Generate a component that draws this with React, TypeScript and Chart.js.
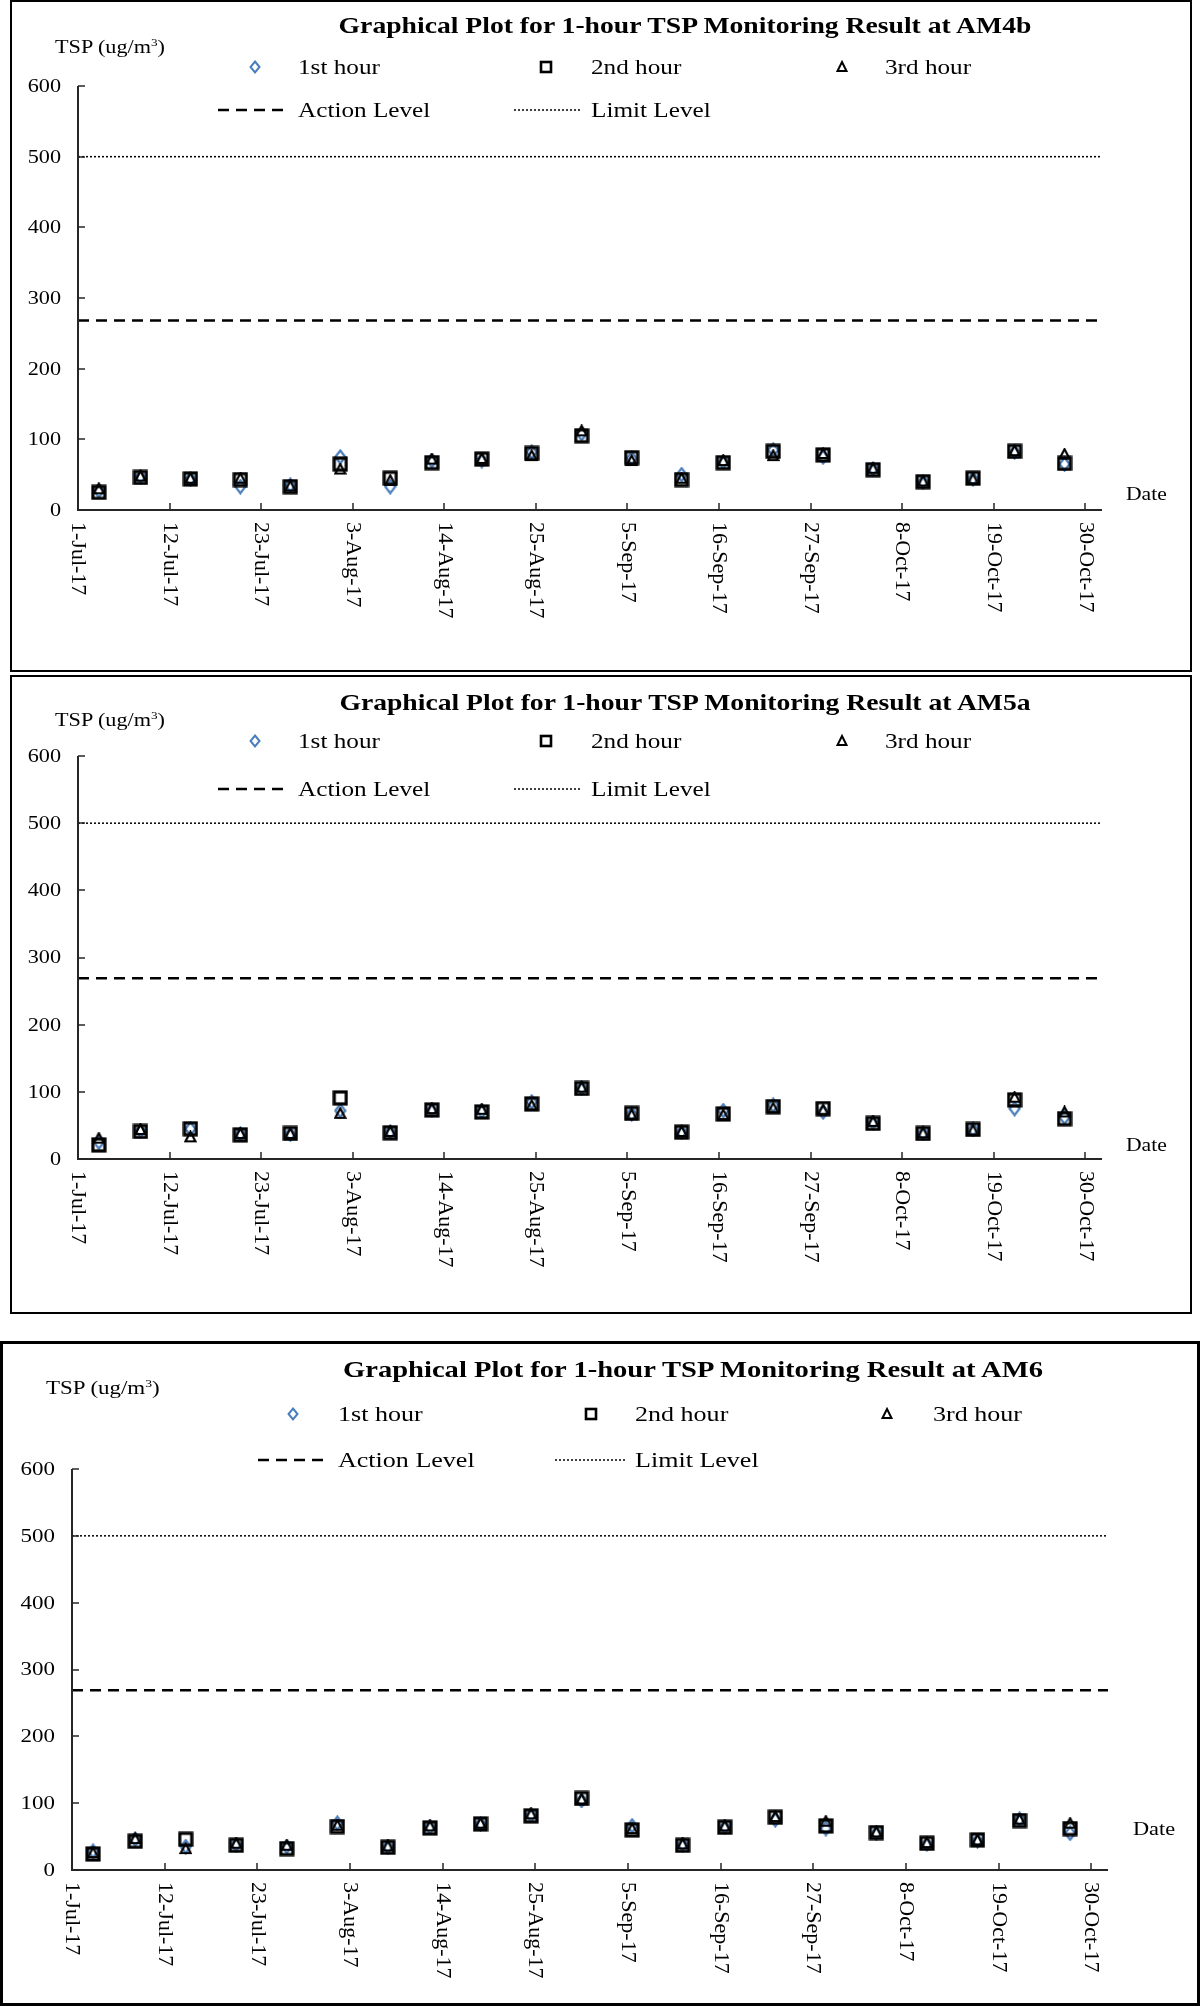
import React, { useEffect, useRef } from "react";
import { Chart, registerables } from "chart.js";

Chart.register(...registerables);

const SERIF = '"Liberation Serif", "Times New Roman", serif';

// ---------------- data ----------------
const AXIS_START = "2017-07-01";
const AXIS_END = "2017-11-01";
const X_TICK_STEP_DAYS = 11;
const X_TICK_LABELS = [
  "1-Jul-17", "12-Jul-17", "23-Jul-17", "3-Aug-17", "14-Aug-17", "25-Aug-17",
  "5-Sep-17", "16-Sep-17", "27-Sep-17", "8-Oct-17", "19-Oct-17", "30-Oct-17",
];
const Y_MIN = 0;
const Y_MAX = 600;
const Y_STEP = 100;

const DATES = [
  "2017-07-03", "2017-07-08", "2017-07-14", "2017-07-20", "2017-07-26", "2017-08-01",
  "2017-08-07", "2017-08-12", "2017-08-18", "2017-08-24", "2017-08-30", "2017-09-05",
  "2017-09-11", "2017-09-16", "2017-09-22", "2017-09-28", "2017-10-04", "2017-10-10",
  "2017-10-16", "2017-10-21", "2017-10-27",
];

const SERIES_NAMES = ["1st hour", "2nd hour", "3rd hour"];
const LINE_NAMES = ["Action Level", "Limit Level"];
const LIMIT_LEVEL = 500;

const AM4B_TITLE = "Graphical Plot for 1-hour TSP Monitoring  Result at AM4b";
const AM4B_1ST = [27, 47, 44, 33, 35, 75, 33, 70, 70, 82, 108, 73, 50, 68, 85, 75, 58, 40, 44, 82, 65];
const AM4B_2ND = [25, 46, 44, 43, 33, 65, 45, 67, 72, 80, 105, 74, 43, 67, 83, 78, 57, 40, 45, 83, 66];
const AM4B_3RD = [30, 48, 45, 45, 34, 58, 42, 72, 73, 77, 112, 70, 45, 70, 77, 80, 59, 41, 44, 84, 79];
const AM4B_ACTION = 268;

const AM5A_TITLE = "Graphical Plot for 1-hour TSP Monitoring  Result at AM5a";
const AM5A_1ST = [25, 42, 45, 37, 37, 72, 40, 73, 71, 85, 106, 67, 40, 72, 80, 70, 54, 38, 44, 75, 62];
const AM5A_2ND = [21, 41, 45, 36, 38, 91, 39, 73, 70, 82, 105, 68, 40, 67, 78, 75, 53, 38, 44, 88, 60];
const AM5A_3RD = [31, 44, 33, 38, 38, 68, 41, 75, 74, 80, 107, 66, 41, 66, 76, 73, 56, 39, 43, 92, 70];
const AM5A_ACTION = 269;

const AM6_TITLE = "Graphical Plot for 1-hour TSP Monitoring  Result at AM6";
const AM6_1ST = [28, 46, 35, 38, 35, 70, 35, 64, 69, 82, 104, 66, 38, 64, 75, 62, 55, 39, 44, 76, 55];
const AM6_2ND = [24, 43, 46, 37, 32, 65, 34, 63, 69, 81, 107, 60, 37, 64, 79, 66, 56, 40, 45, 74, 62];
const AM6_3RD = [26, 47, 32, 40, 37, 67, 36, 66, 70, 84, 106, 62, 39, 66, 80, 73, 57, 41, 45, 76, 70];
const AM6_ACTION = 269;

// ---------------- helpers ----------------
const DAY_MS = 86400000;
const dayOffset = (d: string) => (Date.parse(d) - Date.parse(AXIS_START)) / DAY_MS;

const BLUE = "#4A7EBB";
const AXIS_COLOR = "#262626";

type Layout = {
  panel: { left: number; top: number; width: number; height: number; border: number };
  plot: { left: number; right: number; top: number; bottom: number };
  sx: number;
  title: { cx: number; cy: number };
  tsp: { x: number; cy: number };
  row1: number;
  row2: number;
  mk: number[];
  txt: number[];
  dash: number[];
  dot: number[];
  date: { x: number; cy: number };
};

const LAYOUT_1: Layout = {
  panel: { left: 10, top: 0, width: 1182, height: 672, border: 2 },
  plot: { left: 78, right: 1102, top: 86, bottom: 510 },
  sx: 1.2,
  title: { cx: 685, cy: 25 },
  tsp: { x: 55, cy: 47 },
  row1: 67,
  row2: 110,
  mk: [255, 546, 842],
  txt: [298, 591, 885],
  dash: [218, 286],
  dot: [514, 582],
  date: { x: 1126, cy: 494 },
};

const LAYOUT_2: Layout = {
  panel: { left: 10, top: 675, width: 1182, height: 639, border: 2 },
  plot: { left: 78, right: 1102, top: 756, bottom: 1159 },
  sx: 1.2,
  title: { cx: 685, cy: 702 },
  tsp: { x: 55, cy: 720 },
  row1: 741,
  row2: 789,
  mk: [255, 546, 842],
  txt: [298, 591, 885],
  dash: [218, 286],
  dot: [514, 582],
  date: { x: 1126, cy: 1145 },
};

const LAYOUT_3: Layout = {
  panel: { left: 0, top: 1341, width: 1200, height: 665, border: 3 },
  plot: { left: 72, right: 1108, top: 1469, bottom: 1870 },
  sx: 1.24,
  title: { cx: 693, cy: 1369 },
  tsp: { x: 46, cy: 1388 },
  row1: 1414,
  row2: 1460,
  mk: [293, 591, 887],
  txt: [338, 635, 933],
  dash: [258, 326],
  dot: [555, 627],
  date: { x: 1133, cy: 1829 },
};

function makeMarker(kind: "diamond" | "square" | "triangle"): HTMLCanvasElement {
  const c = document.createElement("canvas");
  const ctx = c.getContext("2d")!;
  if (kind === "diamond") {
    c.width = 13; c.height = 16;
    ctx.strokeStyle = BLUE; ctx.lineWidth = 2.2;
    ctx.beginPath();
    ctx.moveTo(6.5, 1.5); ctx.lineTo(11.5, 8); ctx.lineTo(6.5, 14.5); ctx.lineTo(1.5, 8);
    ctx.closePath(); ctx.stroke();
  } else if (kind === "square") {
    c.width = 16; c.height = 16;
    ctx.strokeStyle = "#000"; ctx.lineWidth = 3.2;
    ctx.strokeRect(2, 2, 12, 12);
  } else {
    c.width = 13; c.height = 13;
    ctx.strokeStyle = "#000"; ctx.lineWidth = 2.2;
    ctx.beginPath();
    ctx.moveTo(6.5, 1.5); ctx.lineTo(11.5, 11); ctx.lineTo(1.5, 11);
    ctx.closePath(); ctx.stroke();
  }
  return c;
}

const pts = (vals: number[]) => vals.map((v, i) => ({ x: dayOffset(DATES[i]) + 0.5, y: v }));

function PlotCanvas({ L, s1, s2, s3, action }: { L: Layout; s1: number[]; s2: number[]; s3: number[]; action: number }) {
  const ref = useRef<HTMLCanvasElement>(null);
  useEffect(() => {
    const H = L.panel.height;
    const yAxisW = 40;
    const xMax = dayOffset(AXIS_END);
    const excelAxes = {
      id: "excelAxes",
      afterDraw(chart: any) {
        const ctx = chart.ctx as CanvasRenderingContext2D;
        const xs = chart.scales.x;
        const ys = chart.scales.y;
        const { left, right, top, bottom } = chart.chartArea;
        ctx.save();
        ctx.strokeStyle = AXIS_COLOR;
        ctx.lineWidth = 2;
        ctx.beginPath();
        ctx.moveTo(left, top);
        ctx.lineTo(left, bottom);
        ctx.lineTo(right, bottom);
        ctx.stroke();
        ctx.lineWidth = 1.5;
        ys.ticks.forEach((t: any) => {
          const py = Math.round(ys.getPixelForValue(t.value));
          ctx.beginPath(); ctx.moveTo(left, py); ctx.lineTo(left + 7, py); ctx.stroke();
        });
        xs.ticks.forEach((t: any) => {
          const px = Math.round(xs.getPixelForValue(t.value));
          ctx.beginPath(); ctx.moveTo(px, bottom); ctx.lineTo(px, bottom - 7); ctx.stroke();
        });
        ctx.fillStyle = "#000";
        ctx.font = `18.5px ${SERIF}`;
        ctx.textAlign = "right";
        ctx.textBaseline = "middle";
        ys.ticks.forEach((t: any) => {
          const py = ys.getPixelForValue(t.value);
          ctx.save();
          ctx.translate(left - 17, py + 1);
          ctx.scale(L.sx, 1);
          ctx.fillText(String(t.value), 0, 0);
          ctx.restore();
        });
        ctx.font = `22px ${SERIF}`;
        ctx.textAlign = "left";
        xs.ticks.forEach((t: any, i: number) => {
          const px = xs.getPixelForValue(t.value);
          ctx.save();
          ctx.translate(px, bottom + 12);
          ctx.rotate(Math.PI / 2);
          ctx.fillText(X_TICK_LABELS[i], 0, 0);
          ctx.restore();
        });
        ctx.restore();
      },
    };
    const chart = new Chart(ref.current!, {
      type: "scatter",
      data: {
        datasets: [
          { label: SERIES_NAMES[2], data: pts(s3), pointStyle: makeMarker("triangle") as any, pointRadius: 6, order: 0 },
          { label: SERIES_NAMES[1], data: pts(s2), pointStyle: makeMarker("square") as any, pointRadius: 6, order: 1 },
          { label: SERIES_NAMES[0], data: pts(s1), pointStyle: makeMarker("diamond") as any, pointRadius: 6, order: 2 },
          {
            label: LINE_NAMES[0],
            data: [{ x: 0, y: action }, { x: xMax, y: action }],
            showLine: true, pointRadius: 0, borderColor: "#000", borderWidth: 2.5, borderDash: [11, 7], order: 3,
          },
          {
            label: LINE_NAMES[1],
            data: [{ x: 0, y: LIMIT_LEVEL }, { x: xMax, y: LIMIT_LEVEL }],
            showLine: true, pointRadius: 0, borderColor: "#000", borderWidth: 1.5, borderDash: [2, 2], order: 4,
          },
        ] as any,
      },
      options: {
        responsive: false,
        animation: false,
        devicePixelRatio: 1,
        layout: {
          padding: {
            left: L.plot.left - yAxisW,
            right: 1200 - L.plot.right,
            top: L.plot.top - L.panel.top,
            bottom: 0,
          },
        },
        plugins: { legend: { display: false }, tooltip: { enabled: false }, title: { display: false } },
        scales: {
          x: {
            type: "linear",
            min: 0,
            max: xMax,
            grid: { display: false, drawTicks: false },
            border: { display: false },
            ticks: { display: false },
            afterBuildTicks: (s: any) => {
              s.ticks = X_TICK_LABELS.map((_, i) => ({ value: i * X_TICK_STEP_DAYS }));
            },
            afterFit: (s: any) => {
              s.height = H - (L.plot.bottom - L.panel.top);
            },
          },
          y: {
            type: "linear",
            min: Y_MIN,
            max: Y_MAX,
            grid: { display: false, drawTicks: false },
            border: { display: false },
            ticks: { display: false, stepSize: Y_STEP },
            afterFit: (s: any) => {
              s.width = yAxisW;
            },
          },
        },
      } as any,
      plugins: [excelAxes as any],
    });
    return () => chart.destroy();
  }, []);
  return (
    <canvas
      ref={ref}
      width={1200}
      height={L.panel.height}
      style={{ position: "absolute", left: 0, top: L.panel.top, width: 1200, height: L.panel.height }}
    />
  );
}

function Txt({ x, cy, size, sx, bold, center, children }: any) {
  return (
    <div
      style={{
        position: "absolute",
        left: x,
        top: cy - size / 2,
        fontFamily: SERIF,
        fontSize: size,
        lineHeight: `${size}px`,
        fontWeight: bold ? 700 : 400,
        whiteSpace: "nowrap",
        color: "#000",
        transform: center ? `translateX(-50%) scaleX(${sx})` : `scaleX(${sx})`,
        transformOrigin: center ? "center center" : "left center",
      }}
    >
      {children}
    </div>
  );
}

function Svg({ x, y, w, h, children }: any) {
  return (
    <svg width={w} height={h} style={{ position: "absolute", left: x, top: y, overflow: "visible" }}>
      {children}
    </svg>
  );
}

function Panel({ L, title, s1, s2, s3, action }: { L: Layout; title: string; s1: number[]; s2: number[]; s3: number[]; action: number }) {
  const p = L.panel;
  return (
    <>
      <div
        style={{
          position: "absolute",
          left: p.left,
          top: p.top,
          width: p.width,
          height: p.height,
          boxSizing: "border-box",
          border: `${p.border}px solid #000`,
        }}
      />
      <PlotCanvas L={L} s1={s1} s2={s2} s3={s3} action={action} />
      <Txt x={L.title.cx} cy={L.title.cy} size={24} sx={L.sx * 0.96} bold center>{title}</Txt>
      <Txt x={L.tsp.x} cy={L.tsp.cy} size={18.5} sx={L.sx}>
        TSP (ug/m<span style={{ fontSize: 11, position: "relative", top: -7 }}>3</span>)
      </Txt>
      {/* legend row 1 */}
      <Svg x={L.mk[0] - 6} y={L.row1 - 7} w={12} h={14}>
        <polygon points="6,1.5 10.5,7 6,12.5 1.5,7" fill="none" stroke={BLUE} strokeWidth={2} />
      </Svg>
      <Txt x={L.txt[0]} cy={L.row1} size={21} sx={L.sx}>{SERIES_NAMES[0]}</Txt>
      <Svg x={L.mk[1] - 7} y={L.row1 - 7} w={14} h={14}>
        <rect x={2} y={2} width={10} height={10} fill="none" stroke="#000" strokeWidth={2.6} />
      </Svg>
      <Txt x={L.txt[1]} cy={L.row1} size={21} sx={L.sx}>{SERIES_NAMES[1]}</Txt>
      <Svg x={L.mk[2] - 6} y={L.row1 - 7} w={12} h={14}>
        <polygon points="6,2 10.5,11 1.5,11" fill="none" stroke="#000" strokeWidth={2} />
      </Svg>
      <Txt x={L.txt[2]} cy={L.row1} size={21} sx={L.sx}>{SERIES_NAMES[2]}</Txt>
      {/* legend row 2 */}
      <Svg x={L.dash[0]} y={L.row2 - 3} w={L.dash[1] - L.dash[0]} h={6}>
        <line x1={0} y1={3} x2={L.dash[1] - L.dash[0]} y2={3} stroke="#000" strokeWidth={2.5} strokeDasharray="11 7" />
      </Svg>
      <Txt x={L.txt[0]} cy={L.row2} size={21} sx={L.sx}>{LINE_NAMES[0]}</Txt>
      <Svg x={L.dot[0]} y={L.row2 - 3} w={L.dot[1] - L.dot[0]} h={6}>
        <line x1={0} y1={3} x2={L.dot[1] - L.dot[0]} y2={3} stroke="#000" strokeWidth={1.5} strokeDasharray="2 2" />
      </Svg>
      <Txt x={L.txt[1]} cy={L.row2} size={21} sx={L.sx}>{LINE_NAMES[1]}</Txt>
      <Txt x={L.date.x} cy={L.date.cy} size={18} sx={L.sx}>Date</Txt>
    </>
  );
}

export default function App() {
  return (
    <div style={{ position: "absolute", left: 0, top: 0, width: 1200, height: 2006, background: "#fff", overflow: "hidden" }}>
      <Panel L={LAYOUT_1} title={AM4B_TITLE} s1={AM4B_1ST} s2={AM4B_2ND} s3={AM4B_3RD} action={AM4B_ACTION} />
      <Panel L={LAYOUT_2} title={AM5A_TITLE} s1={AM5A_1ST} s2={AM5A_2ND} s3={AM5A_3RD} action={AM5A_ACTION} />
      <Panel L={LAYOUT_3} title={AM6_TITLE} s1={AM6_1ST} s2={AM6_2ND} s3={AM6_3RD} action={AM6_ACTION} />
    </div>
  );
}
